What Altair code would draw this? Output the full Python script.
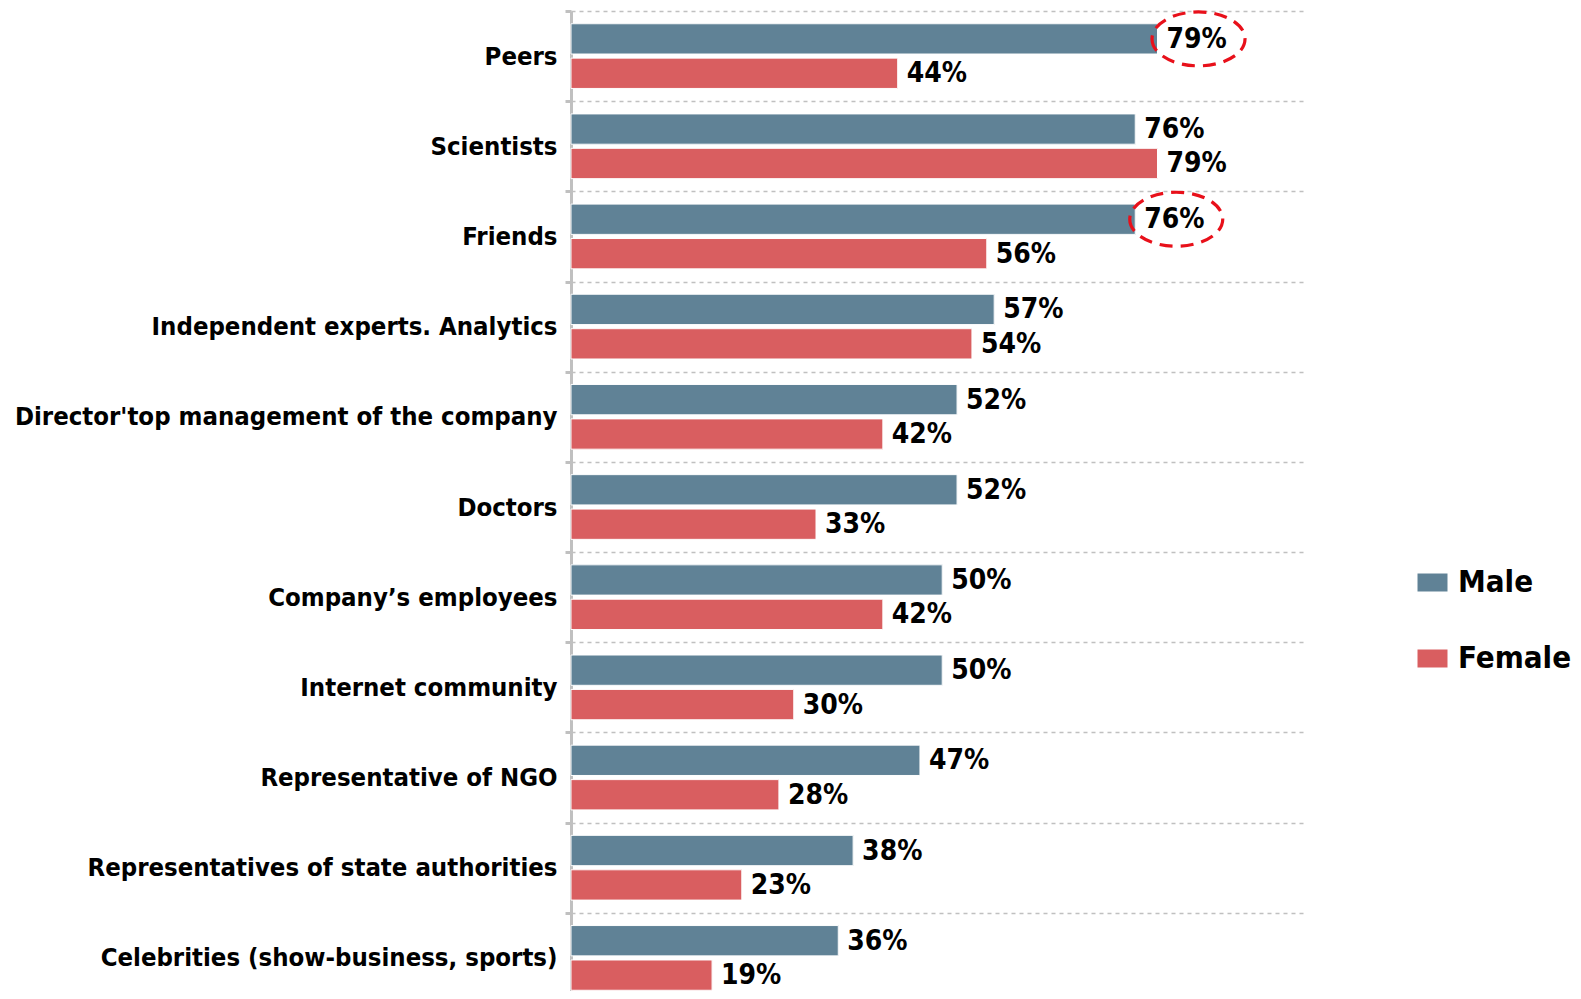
import altair as alt
import pandas as pd

categories = [
    "Peers",
    "Scientists",
    "Friends",
    "Independent experts. Analytics",
    "Director'top management of the company",
    "Doctors",
    "Company’s employees",
    "Internet community",
    "Representative of NGO",
    "Representatives of state authorities",
    "Celebrities (show-business, sports)",
]
male = [79, 76, 76, 57, 52, 52, 50, 50, 47, 38, 36]
female = [44, 79, 56, 54, 42, 33, 42, 30, 28, 23, 19]
series = ["Male", "Female"]
colors = ["#608296", "#D95E60"]
highlighted_male = ["Peers", "Friends"]

rows = []
for c, m, f in zip(categories, male, female):
    rows.append({"category": c, "series": "Male", "value": m,
                 "hl": c in highlighted_male})
    rows.append({"category": c, "series": "Female", "value": f, "hl": False})
df = pd.DataFrame(rows)

FONT = "DejaVu Sans Condensed, DejaVu Sans"

y_enc = alt.Y(
    "category:N",
    sort=categories,
    scale=alt.Scale(domain=categories, paddingInner=0, paddingOuter=0, range=[0, 992]),
    axis=alt.Axis(
        title=None,
        grid=True,
        gridDash=[4, 4],
        gridColor="#C0C0C0",
        gridWidth=1.5,
        tickBand="extent",
        ticks=True,
        tickSize=6,
        tickWidth=3,
        tickColor="#C0C0C0",
        domainColor="#C0C0C0",
        domainWidth=3,
        labelFont=FONT,
        labelFontSize=25.5,
        labelFontWeight="bold",
        labelColor="#000000",
        labelPadding=8,
        labelLimit=700,
    ),
)
yoff = alt.YOffset(
    "series:N",
    sort=series,
    scale=alt.Scale(domain=series, paddingInner=0.12, paddingOuter=0.37),
)
x_enc = alt.X("value:Q", scale=alt.Scale(domain=[0, 99], nice=False), axis=None)
color_enc = alt.Color(
    "series:N",
    sort=series,
    scale=alt.Scale(domain=series, range=colors),
    legend=alt.Legend(
        title=None,
        orient="none",
        legendX=846,
        legendY=556,
        symbolType="M-1,-0.6H1V0.6H-1Z",
        symbolSize=900,
        symbolStrokeWidth=0,
        symbolOpacity=1,
        labelFont=FONT,
        labelFontSize=31,
        labelFontWeight="bold",
        labelColor="#000000",
        labelOffset=10,
        rowPadding=44,
        padding=0,
    ),
)

base = alt.Chart(df)

back = base.mark_bar(x2Offset=2).encode(
    y=y_enc, yOffset=yoff, x=x_enc, color=color_enc
)
front = base.mark_bar(stroke="white", strokeWidth=1).encode(
    y=y_enc, yOffset=yoff, x=x_enc, color=color_enc
)
labels = base.transform_calculate(
    label="format(datum.value, 'd') + '%'"
).mark_text(
    align="left", baseline="middle", dx=9, dy=1,
    font=FONT, fontSize=28, fontWeight="bold", color="#000000",
).encode(y=y_enc, yOffset=yoff, x=x_enc, text="label:N")

ellipses = base.transform_filter("datum.hl").mark_point(
    shape="M -1 0 A 1 0.58 0 1 0 1 0 A 1 0.58 0 1 0 -1 0 Z",
    size=8649,
    filled=False,
    stroke="#E8101A",
    strokeWidth=3.2,
    strokeDash=[13, 8],
    xOffset=41,
    yOffset=4,
    opacity=1,
).encode(y=y_enc, yOffset=yoff, x=x_enc)

chart = alt.layer(back, front, labels, ellipses).properties(
    width=735,
    height=980,
    autosize=alt.AutoSizeParams(type="none"),
    padding={"left": 563, "top": 3, "right": 267, "bottom": 0},
).configure_view(stroke=None)

chart.save("out.html", embed_options={"renderer": "svg", "actions": False})
